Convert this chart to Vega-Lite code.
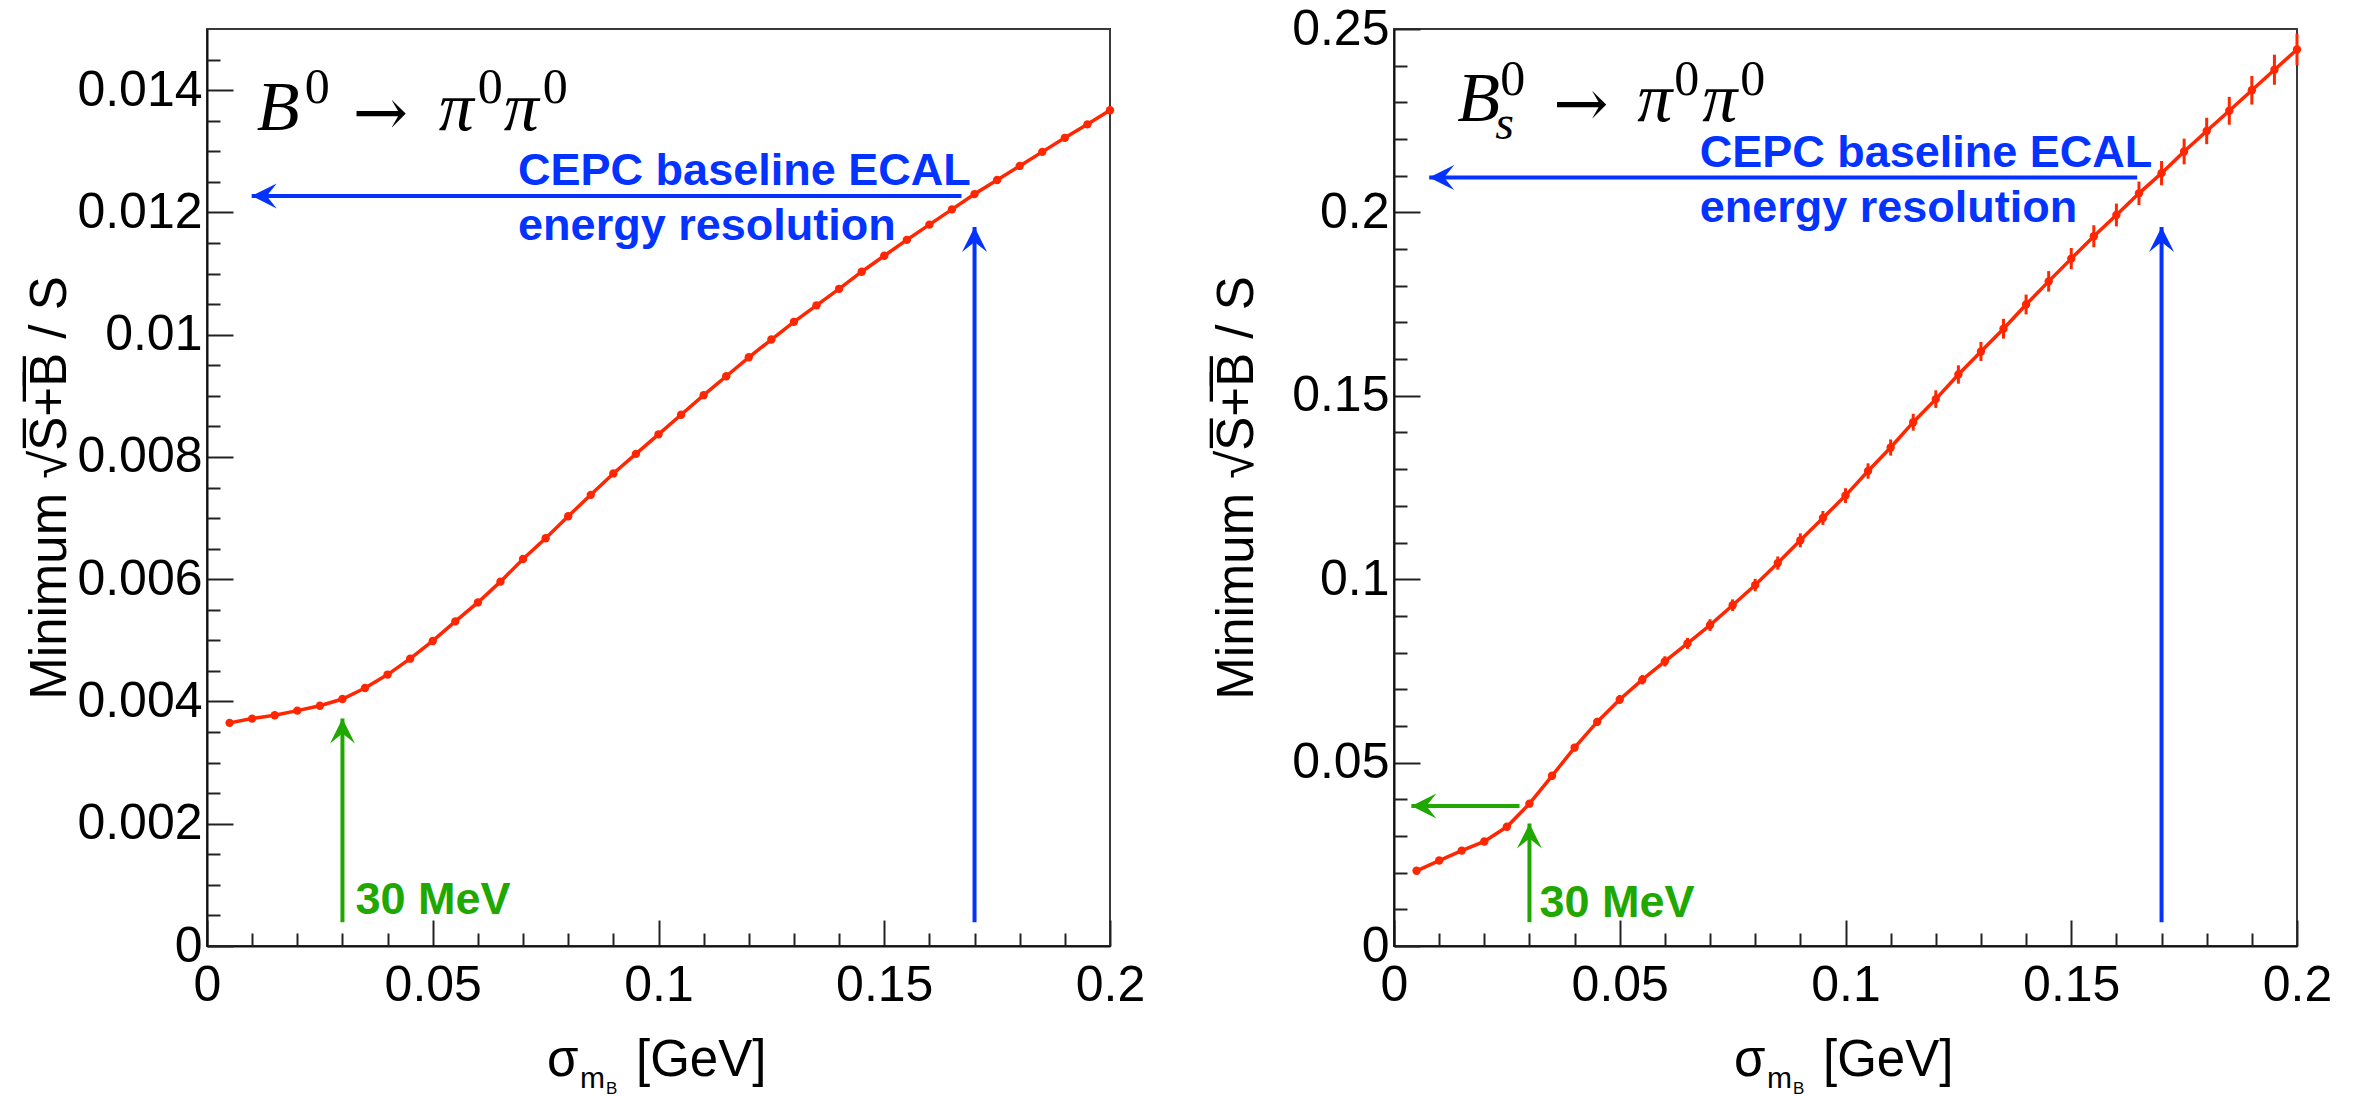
{
  "$schema": "https://vega.github.io/schema/vega-lite/v6.json",
  "padding": {"left": 23, "top": 3, "right": 5, "bottom": 0},
  "bounds": "flush",
  "spacing": 284,
  "background": "white",
  "config": {
    "view": {"stroke": "#3a3a3a", "strokeWidth": 2},
    "axis": {"grid": false, "labelFont": "Liberation Sans", "labelFontSize": 50, "labelColor": "#000", "tickColor": "#222", "tickWidth": 2, "domainColor": "#111", "domainWidth": 2, "labelFlush": false, "labelOverlap": false, "titleFont": "Liberation Sans", "titleFontSize": 51, "titleFontWeight": "normal", "titleColor": "#000"}
  },
  "datasets": {
    "b0": [
      {"x":0.005,"y":0.00365},{"x":0.01,"y":0.00372},{"x":0.015,"y":0.003775},{"x":0.02,"y":0.00385},{"x":0.025,"y":0.00393},
      {"x":0.03,"y":0.00404},{"x":0.035,"y":0.00422},{"x":0.04,"y":0.00444},{"x":0.045,"y":0.0047},{"x":0.05,"y":0.00499},
      {"x":0.055,"y":0.00531},{"x":0.06,"y":0.00562},{"x":0.065,"y":0.00596},{"x":0.07,"y":0.00633},{"x":0.075,"y":0.00667},
      {"x":0.08,"y":0.00703},{"x":0.085,"y":0.00738},{"x":0.09,"y":0.00773},{"x":0.095,"y":0.00805},{"x":0.1,"y":0.00837},
      {"x":0.105,"y":0.00869},{"x":0.11,"y":0.00901},{"x":0.115,"y":0.00932},{"x":0.12,"y":0.00963},{"x":0.125,"y":0.00992},
      {"x":0.13,"y":0.01021},{"x":0.135,"y":0.01048},{"x":0.14,"y":0.01075},{"x":0.145,"y":0.01103},{"x":0.15,"y":0.01129},
      {"x":0.155,"y":0.01155},{"x":0.16,"y":0.0118},{"x":0.165,"y":0.01205},{"x":0.17,"y":0.0123},{"x":0.175,"y":0.01253},
      {"x":0.18,"y":0.01276},{"x":0.185,"y":0.01299},{"x":0.19,"y":0.01322},{"x":0.195,"y":0.01344},{"x":0.2,"y":0.01367}
    ],
    "bs": [
      {"x":0.005,"y":0.0205,"err":0.0005},{"x":0.01,"y":0.0233,"err":0.0005},{"x":0.015,"y":0.026,"err":0.0006},{"x":0.02,"y":0.0285,"err":0.0006},{"x":0.025,"y":0.0325,"err":0.0007},
      {"x":0.03,"y":0.0388,"err":0.0008},{"x":0.035,"y":0.0464,"err":0.0009},{"x":0.04,"y":0.0541,"err":0.001},{"x":0.045,"y":0.0611,"err":0.0011},{"x":0.05,"y":0.0672,"err":0.0012},
      {"x":0.055,"y":0.0726,"err":0.0013},{"x":0.06,"y":0.0776,"err":0.0014},{"x":0.065,"y":0.0825,"err":0.0015},{"x":0.07,"y":0.0875,"err":0.0016},{"x":0.075,"y":0.0929,"err":0.0016},
      {"x":0.08,"y":0.0984,"err":0.0017},{"x":0.085,"y":0.1044,"err":0.0018},{"x":0.09,"y":0.1106,"err":0.0019},{"x":0.095,"y":0.1167,"err":0.0019},{"x":0.1,"y":0.1228,"err":0.002},
      {"x":0.105,"y":0.1295,"err":0.0021},{"x":0.11,"y":0.1359,"err":0.0022},{"x":0.115,"y":0.1428,"err":0.0023},{"x":0.12,"y":0.1491,"err":0.0024},{"x":0.125,"y":0.1558,"err":0.0025},
      {"x":0.13,"y":0.1621,"err":0.0026},{"x":0.135,"y":0.1683,"err":0.0027},{"x":0.14,"y":0.1749,"err":0.0027},{"x":0.145,"y":0.1812,"err":0.0028},{"x":0.15,"y":0.1874,"err":0.0029},
      {"x":0.155,"y":0.1935,"err":0.003},{"x":0.16,"y":0.1993,"err":0.0031},{"x":0.165,"y":0.2052,"err":0.0032},{"x":0.17,"y":0.2107,"err":0.0033},{"x":0.175,"y":0.2166,"err":0.0035},
      {"x":0.18,"y":0.2222,"err":0.0036},{"x":0.185,"y":0.2277,"err":0.0038},{"x":0.19,"y":0.2333,"err":0.0039},{"x":0.195,"y":0.2389,"err":0.0041},{"x":0.2,"y":0.2444,"err":0.0043}
    ],
    "arrL": [
      {"x":0.1671,"y":0.01227,"x2":0.0099,"y2":0.01227,"group":"ECAL"},
      {"x":0.17,"y":0.00039,"x2":0.17,"y2":0.01176,"group":"ECAL"},
      {"x":0.03,"y":0.00039,"x2":0.03,"y2":0.003723,"group":"30 MeV"}
    ],
    "headL": [
      {"x":0.0099,"y":0.01227,"dir":"left","group":"ECAL"},
      {"x":0.17,"y":0.01176,"dir":"up","group":"ECAL"},
      {"x":0.03,"y":0.003723,"dir":"up","group":"30 MeV"}
    ],
    "arrR": [
      {"x":0.1646,"y":0.2095,"x2":0.0078,"y2":0.2095,"group":"ECAL"},
      {"x":0.17,"y":0.0065,"x2":0.17,"y2":0.196,"group":"ECAL"},
      {"x":0.03,"y":0.0065,"x2":0.03,"y2":0.0334,"group":"30 MeV"},
      {"x":0.0278,"y":0.0382,"x2":0.00385,"y2":0.0382,"group":"30 MeV"}
    ],
    "headR": [
      {"x":0.0078,"y":0.2095,"dir":"left","group":"ECAL"},
      {"x":0.17,"y":0.196,"dir":"up","group":"ECAL"},
      {"x":0.03,"y":0.0334,"dir":"up","group":"30 MeV"},
      {"x":0.00385,"y":0.0382,"dir":"left","group":"30 MeV"}
    ],
    "txtL": [
      {"x":0.0689,"y":0.01245,"label":"CEPC baseline ECAL","group":"ECAL"},
      {"x":0.0689,"y":0.01155,"label":"energy resolution","group":"ECAL"},
      {"x":0.0329,"y":0.00053,"label":"30 MeV","group":"30 MeV"}
    ],
    "txtR": [
      {"x":0.0677,"y":0.2125,"label":"CEPC baseline ECAL","group":"ECAL"},
      {"x":0.0677,"y":0.1975,"label":"energy resolution","group":"ECAL"},
      {"x":0.0322,"y":0.0078,"label":"30 MeV","group":"30 MeV"}
    ],
    "ttlL": [{"x":0.011,"y":0.01335}],
    "ttlR": [{"x":0.014,"y":0.2249}],
    "xtL": [{"x":0.0753,"y":-0.00213}],
    "xtR": [{"x":0.0753,"y":-0.0355}]
  },
  "hconcat": [
    {
      "width": 903, "height": 917,
      "resolve": {"axis": {"x": "independent", "y": "independent"}},
      "encoding": {
        "x": {"field":"x","type":"quantitative","scale":{"domain":[0,0.2],"nice":false,"zero":false},"axis":null},
        "y": {"field":"y","type":"quantitative","scale":{"domain":[0,0.015],"nice":false,"zero":false},"axis":null}
      },
      "layer": [
        {"data":{"name":"b0"},"mark":{"type":"line","color":"#ff2600","strokeWidth":3.5},
         "encoding":{
           "x":{"field":"x","type":"quantitative","scale":{"domain":[0,0.2],"nice":false,"zero":false},"axis":{"orient":"bottom","values":[0,0.05,0.1,0.15,0.2],"format":"~g","tickSize":-26,"labelPadding":40,"title":null}},
           "y":{"field":"y","type":"quantitative","scale":{"domain":[0,0.015],"nice":false,"zero":false},"axis":{"orient":"left","values":[0,0.002,0.004,0.006,0.008,0.01,0.012,0.014],"format":"~g","tickSize":-26,"labelPadding":31,"title":"Minimum \u221aS\u0305+\u0305B\u0305 / S","titleX":-142,"titleY":458.5,"titleAngle":-90,"titleBaseline":"alphabetic","titleAlign":"center"}}
         }},
        {"data":{"name":"b0"},"mark":{"type":"point","filled":true,"color":"#ff2600","size":70,"opacity":1},
         "encoding":{
           "x":{"field":"x","type":"quantitative","scale":{"domain":[0,0.2],"nice":false,"zero":false},"axis":{"orient":"bottom","values":[0.01,0.02,0.03,0.04,0.06,0.07,0.08,0.09,0.11,0.12,0.13,0.14,0.16,0.17,0.18,0.19],"labels":false,"tickSize":-13,"domain":false,"title":null}},
           "y":{"field":"y","type":"quantitative","scale":{"domain":[0,0.015],"nice":false,"zero":false},"axis":{"orient":"left","values":[0.0005,0.001,0.0015,0.0025,0.003,0.0035,0.0045,0.005,0.0055,0.0065,0.007,0.0075,0.0085,0.009,0.0095,0.0105,0.011,0.0115,0.0125,0.013,0.0135,0.0145],"labels":false,"tickSize":-13,"domain":false,"title":null}}
         }},
        {"data":{"name":"arrL"},"mark":{"type":"rule","strokeWidth":4},
         "encoding":{"x2":{"field":"x2"},"y2":{"field":"y2"},
           "color":{"field":"group","type":"nominal","scale":{"domain":["ECAL","30 MeV"],"range":["#0433ff","#20a800"]},"legend":null}}},
        {"data":{"name":"headL"},"mark":{"type":"point","filled":true,"size":625,"opacity":1,"strokeWidth":0},
         "encoding":{
           "shape":{"field":"dir","type":"nominal","scale":{"domain":["left","up"],"range":["M0,0L2,-1L1.2,0L2,1Z","M0,0L-1,2L0,1.2L1,2Z"]},"legend":null},
           "color":{"field":"group","type":"nominal","scale":{"domain":["ECAL","30 MeV"],"range":["#0433ff","#20a800"]},"legend":null}}},
        {"data":{"name":"txtL"},"mark":{"type":"text","font":"Liberation Sans","fontWeight":"bold","fontSize":45,"align":"left","baseline":"alphabetic"},
         "encoding":{"text":{"field":"label"},
           "color":{"field":"group","type":"nominal","scale":{"domain":["ECAL","30 MeV"],"range":["#0433ff","#20a800"]},"legend":null}}},
        {"data":{"name":"ttlL"},"mark":{"type":"text","text":"B","font":"Liberation Serif","fontStyle":"italic","fontSize":70,"align":"left","baseline":"alphabetic","color":"#000"}},
        {"data":{"name":"ttlL"},"mark":{"type":"text","text":"0","font":"Liberation Serif","fontSize":50,"align":"left","baseline":"alphabetic","dx":48,"dy":-27,"color":"#000"}},
        {"data":{"name":"ttlL"},"mark":{"type":"text","text":"\u2192","font":"DejaVu Serif","fontSize":66,"align":"left","baseline":"alphabetic","dx":96,"dy":5,"color":"#000"}},
        {"data":{"name":"ttlL"},"mark":{"type":"text","text":"\u03c0","font":"Liberation Serif","fontStyle":"italic","fontSize":70,"align":"left","baseline":"alphabetic","dx":182,"color":"#000"}},
        {"data":{"name":"ttlL"},"mark":{"type":"text","text":"0","font":"Liberation Serif","fontSize":50,"align":"left","baseline":"alphabetic","dx":221,"dy":-27,"color":"#000"}},
        {"data":{"name":"ttlL"},"mark":{"type":"text","text":"\u03c0","font":"Liberation Serif","fontStyle":"italic","fontSize":70,"align":"left","baseline":"alphabetic","dx":247,"color":"#000"}},
        {"data":{"name":"ttlL"},"mark":{"type":"text","text":"0","font":"Liberation Serif","fontSize":50,"align":"left","baseline":"alphabetic","dx":286,"dy":-27,"color":"#000"}},
        {"data":{"name":"xtL"},"mark":{"type":"text","text":"\u03c3","font":"Liberation Sans","fontSize":51,"align":"left","baseline":"alphabetic","color":"#000"}},
        {"data":{"name":"xtL"},"mark":{"type":"text","text":"m","font":"Liberation Sans","fontSize":30,"align":"left","baseline":"alphabetic","dx":33,"dy":12,"color":"#000"}},
        {"data":{"name":"xtL"},"mark":{"type":"text","text":"B","font":"Liberation Sans","fontSize":17,"align":"left","baseline":"alphabetic","dx":59,"dy":18,"color":"#000"}},
        {"data":{"name":"xtL"},"mark":{"type":"text","text":"[GeV]","font":"Liberation Sans","fontSize":51,"align":"left","baseline":"alphabetic","dx":89,"color":"#000"}}
      ]
    },
    {
      "width": 903, "height": 917,
      "resolve": {"axis": {"x": "independent", "y": "independent"}},
      "encoding": {
        "x": {"field":"x","type":"quantitative","scale":{"domain":[0,0.2],"nice":false,"zero":false},"axis":null},
        "y": {"field":"y","type":"quantitative","scale":{"domain":[0,0.25],"nice":false,"zero":false},"axis":null}
      },
      "layer": [
        {"data":{"name":"bs"},"mark":{"type":"errorbar","color":"#ff2600","thickness":3},
         "encoding":{"yError":{"field":"err"}}},
        {"data":{"name":"bs"},"mark":{"type":"line","color":"#ff2600","strokeWidth":3.5},
         "encoding":{
           "x":{"field":"x","type":"quantitative","scale":{"domain":[0,0.2],"nice":false,"zero":false},"axis":{"orient":"bottom","values":[0,0.05,0.1,0.15,0.2],"format":"~g","tickSize":-26,"labelPadding":40,"title":null}},
           "y":{"field":"y","type":"quantitative","scale":{"domain":[0,0.25],"nice":false,"zero":false},"axis":{"orient":"left","values":[0,0.05,0.1,0.15,0.2,0.25],"format":"~g","tickSize":-26,"labelPadding":31,"title":"Minimum \u221aS\u0305+\u0305B\u0305 / S","titleX":-142,"titleY":458.5,"titleAngle":-90,"titleBaseline":"alphabetic","titleAlign":"center"}}
         }},
        {"data":{"name":"bs"},"mark":{"type":"point","filled":true,"color":"#ff2600","size":70,"opacity":1},
         "encoding":{
           "x":{"field":"x","type":"quantitative","scale":{"domain":[0,0.2],"nice":false,"zero":false},"axis":{"orient":"bottom","values":[0.01,0.02,0.03,0.04,0.06,0.07,0.08,0.09,0.11,0.12,0.13,0.14,0.16,0.17,0.18,0.19],"labels":false,"tickSize":-13,"domain":false,"title":null}},
           "y":{"field":"y","type":"quantitative","scale":{"domain":[0,0.25],"nice":false,"zero":false},"axis":{"orient":"left","values":[0.01,0.02,0.03,0.04,0.06,0.07,0.08,0.09,0.11,0.12,0.13,0.14,0.16,0.17,0.18,0.19,0.21,0.22,0.23,0.24],"labels":false,"tickSize":-13,"domain":false,"title":null}}
         }},
        {"data":{"name":"arrR"},"mark":{"type":"rule","strokeWidth":4},
         "encoding":{"x2":{"field":"x2"},"y2":{"field":"y2"},
           "color":{"field":"group","type":"nominal","scale":{"domain":["ECAL","30 MeV"],"range":["#0433ff","#20a800"]},"legend":null}}},
        {"data":{"name":"headR"},"mark":{"type":"point","filled":true,"size":625,"opacity":1,"strokeWidth":0},
         "encoding":{
           "shape":{"field":"dir","type":"nominal","scale":{"domain":["left","up"],"range":["M0,0L2,-1L1.2,0L2,1Z","M0,0L-1,2L0,1.2L1,2Z"]},"legend":null},
           "color":{"field":"group","type":"nominal","scale":{"domain":["ECAL","30 MeV"],"range":["#0433ff","#20a800"]},"legend":null}}},
        {"data":{"name":"txtR"},"mark":{"type":"text","font":"Liberation Sans","fontWeight":"bold","fontSize":45,"align":"left","baseline":"alphabetic"},
         "encoding":{"text":{"field":"label"},
           "color":{"field":"group","type":"nominal","scale":{"domain":["ECAL","30 MeV"],"range":["#0433ff","#20a800"]},"legend":null}}},
        {"data":{"name":"ttlR"},"mark":{"type":"text","text":"B","font":"Liberation Serif","fontStyle":"italic","fontSize":70,"align":"left","baseline":"alphabetic","color":"#000"}},
        {"data":{"name":"ttlR"},"mark":{"type":"text","text":"s","font":"Liberation Serif","fontStyle":"italic","fontSize":48,"align":"left","baseline":"alphabetic","dx":38,"dy":18,"color":"#000"}},
        {"data":{"name":"ttlR"},"mark":{"type":"text","text":"0","font":"Liberation Serif","fontSize":50,"align":"left","baseline":"alphabetic","dx":43,"dy":-26,"color":"#000"}},
        {"data":{"name":"ttlR"},"mark":{"type":"text","text":"\u2192","font":"DejaVu Serif","fontSize":66,"align":"left","baseline":"alphabetic","dx":96,"dy":5,"color":"#000"}},
        {"data":{"name":"ttlR"},"mark":{"type":"text","text":"\u03c0","font":"Liberation Serif","fontStyle":"italic","fontSize":70,"align":"left","baseline":"alphabetic","dx":180,"color":"#000"}},
        {"data":{"name":"ttlR"},"mark":{"type":"text","text":"0","font":"Liberation Serif","fontSize":50,"align":"left","baseline":"alphabetic","dx":217,"dy":-26,"color":"#000"}},
        {"data":{"name":"ttlR"},"mark":{"type":"text","text":"\u03c0","font":"Liberation Serif","fontStyle":"italic","fontSize":70,"align":"left","baseline":"alphabetic","dx":245,"color":"#000"}},
        {"data":{"name":"ttlR"},"mark":{"type":"text","text":"0","font":"Liberation Serif","fontSize":50,"align":"left","baseline":"alphabetic","dx":283,"dy":-26,"color":"#000"}},
        {"data":{"name":"xtR"},"mark":{"type":"text","text":"\u03c3","font":"Liberation Sans","fontSize":51,"align":"left","baseline":"alphabetic","color":"#000"}},
        {"data":{"name":"xtR"},"mark":{"type":"text","text":"m","font":"Liberation Sans","fontSize":30,"align":"left","baseline":"alphabetic","dx":33,"dy":12,"color":"#000"}},
        {"data":{"name":"xtR"},"mark":{"type":"text","text":"B","font":"Liberation Sans","fontSize":17,"align":"left","baseline":"alphabetic","dx":59,"dy":18,"color":"#000"}},
        {"data":{"name":"xtR"},"mark":{"type":"text","text":"[GeV]","font":"Liberation Sans","fontSize":51,"align":"left","baseline":"alphabetic","dx":89,"color":"#000"}}
      ]
    }
  ]
}
